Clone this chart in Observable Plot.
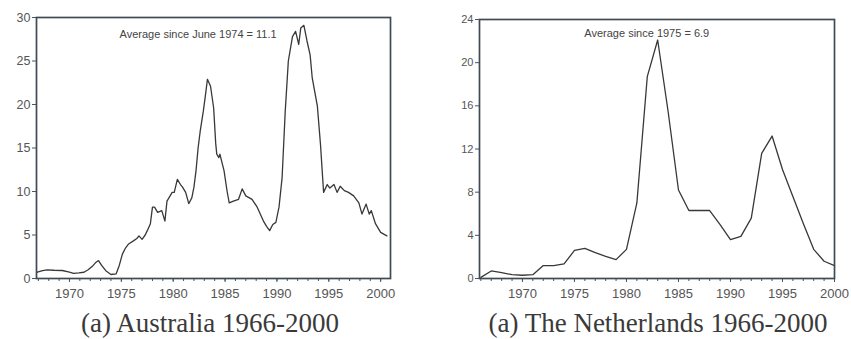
<!DOCTYPE html>
<html>
<head>
<meta charset="utf-8">
<script src="https://cdn.jsdelivr.net/npm/d3@7"></script>
<script src="https://cdn.jsdelivr.net/npm/@observablehq/plot@0.6"></script>
<style>
  html, body { margin: 0; padding: 0; background: #ffffff; }
  #wrap { position: relative; width: 851px; height: 339px; overflow: hidden; }
  .panel { position: absolute; top: 0; }
  .caption { position: absolute; font-family: "Liberation Serif", "DejaVu Serif", serif; font-size: 27px; line-height: 27px; color: #3a3a3a; white-space: nowrap; text-align: center; }
</style>
</head>
<body>
<div id="wrap">
  <div id="au" class="panel" style="left:0px"></div>
  <div id="nl" class="panel" style="left:430px"></div>
  <div id="capAU" class="caption" style="left:10px; width:400px; top:310px;"></div>
  <div id="capNL" class="caption" style="left:458px; width:400px; top:310px;"></div>
</div>
<script>
// ---- Australia (monthly-ish readings) ----
const AU_YEARS = [1966.9,1967.4,1967.85,1968.5,1969.3,1969.9,1970.4,1970.9,1971.4,1971.8,1972.2,1972.5,1972.8,1973.1,1973.5,1974.0,1974.5,1974.8,1975.1,1975.4,1975.7,1976.2,1976.5,1976.7,1977.0,1977.3,1977.5,1977.8,1978.0,1978.2,1978.5,1978.9,1979.2,1979.4,1979.7,1979.9,1980.1,1980.4,1980.7,1980.9,1981.2,1981.5,1981.8,1982.0,1982.2,1982.4,1982.6,1982.9,1983.1,1983.3,1983.6,1983.9,1984.1,1984.2,1984.4,1984.5,1984.9,1985.2,1985.4,1985.8,1986.3,1986.65,1987.0,1987.6,1988.1,1988.7,1989.0,1989.3,1989.6,1989.9,1990.2,1990.5,1990.8,1991.1,1991.5,1991.8,1992.1,1992.3,1992.6,1992.9,1993.2,1993.4,1993.9,1994.2,1994.5,1994.85,1995.1,1995.5,1995.8,1996.1,1996.5,1996.9,1997.4,1997.9,1998.2,1998.6,1998.9,1999.1,1999.5,2000.0,2000.6];
const AU_VALUES = [0.72,0.9,1.0,0.95,0.92,0.75,0.6,0.65,0.72,1.0,1.4,1.8,2.06,1.5,0.9,0.46,0.54,1.5,2.8,3.5,3.97,4.35,4.6,4.9,4.5,5.0,5.5,6.3,8.2,8.2,7.6,7.8,6.6,8.9,9.5,9.9,9.9,11.4,10.8,10.5,9.9,8.6,9.3,10.5,12.4,15.0,16.9,19.2,21.0,22.9,22.1,19.6,15.5,14.3,13.9,14.3,12.4,10.0,8.7,8.9,9.1,10.3,9.5,9.1,8.2,6.6,6.0,5.5,6.2,6.45,8.2,11.6,19.2,25.0,27.8,28.4,26.9,28.8,29.1,27.3,25.7,23.1,19.8,15.4,9.9,10.8,10.4,10.8,9.9,10.6,10.1,9.9,9.5,8.7,7.4,8.55,7.4,7.8,6.3,5.3,4.9];
const AU_Y_TICKS = [0,5,10,15,20,25,30];
const AU_NOTE = "Average since June 1974 = 11.1";
const AU_CAPTION = "(a) Australia 1966-2000";

// ---- Netherlands (annual readings) ----
const NL_YEARS = d3.range(1966, 2001);
const NL_VALUES = [0.1,0.7,0.55,0.35,0.3,0.35,1.2,1.2,1.35,2.6,2.8,2.4,2.05,1.75,2.7,7.0,18.7,22.1,15.5,8.2,6.3,6.3,6.3,5.0,3.6,3.9,5.6,11.6,13.2,10.1,7.6,5.1,2.7,1.6,1.2];
const NL_Y_TICKS = [0,4,8,12,16,20,24];
const NL_NOTE = "Average since 1975 = 6.9";
const NL_CAPTION = "(a) The Netherlands 1966-2000";

const X_LABEL_YEARS = [1970,1975,1980,1985,1990,1995,2000];

const auData = AU_YEARS.map((y, i) => ({year: y, value: AU_VALUES[i]}));
const nlData = NL_YEARS.map((y, i) => ({year: y, value: NL_VALUES[i]}));

function panel({data, xDomain, yDomain, yTicks, note, noteX, noteY, width, mLeft, mRight, mTop, yFont}) {
  const minor = d3.range(Math.ceil(xDomain[0]), Math.floor(xDomain[1]) + 1);
  return Plot.plot({
    width, height: 300,
    marginLeft: mLeft, marginRight: mRight, marginTop: mTop, marginBottom: 22,
    style: {fontFamily: "'Liberation Sans', Arial, sans-serif", color: "#3a3f45", background: "transparent", overflow: "visible"},
    x: {domain: xDomain, label: null},
    y: {domain: yDomain, label: null},
    marks: [
      Plot.line(data, {x: "year", y: "value", stroke: "#383838", strokeWidth: 1.3}),
      Plot.axisX({ticks: minor, tickFormat: () => "", tickSize: 3, stroke: "#4a5560", label: null}),
      Plot.axisX({ticks: X_LABEL_YEARS, tickFormat: d => String(d), tickSize: 4, tickPadding: 6, fontSize: 13, fill: "#555", stroke: "#4a5560", label: null}),
      Plot.axisY({ticks: yTicks, tickSize: 4, tickPadding: 2, fontSize: yFont, fill: "#555", stroke: "#4a5560", label: null}),
      Plot.frame({stroke: "#3e4a55", strokeWidth: 1.7}),
      Plot.text([note], {x: noteX, y: noteY, text: d => d, fontSize: 11, fill: "#444"})
    ]
  });
}

document.getElementById("au").appendChild(panel({
  data: auData, xDomain: [1966.82, 2000.95], yDomain: [0, 30], yTicks: AU_Y_TICKS,
  note: AU_NOTE, noteX: 1982.4, noteY: 28.05, width: 420, mLeft: 36, mRight: 30, mTop: 17, yFont: 12.5
}));
document.getElementById("nl").appendChild(panel({
  data: nlData, xDomain: [1965.87, 2000.0], yDomain: [0, 24], yTicks: NL_Y_TICKS,
  note: NL_NOTE, noteX: 1981.95, noteY: 22.7, width: 421, mLeft: 49, mRight: 17, mTop: 19, yFont: 11
}));
document.getElementById("capAU").textContent = AU_CAPTION;
document.getElementById("capNL").textContent = NL_CAPTION;
</script>
</body>
</html>
